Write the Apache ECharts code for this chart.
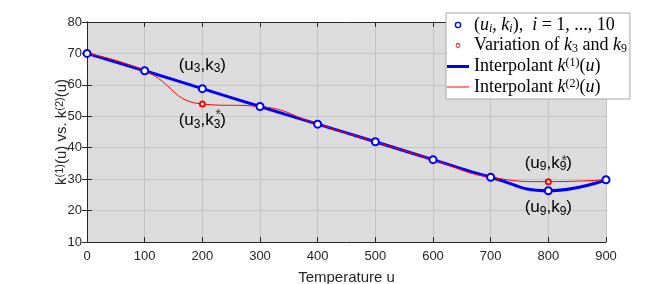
<!DOCTYPE html>
<html><head><meta charset="utf-8">
<script src="https://cdn.jsdelivr.net/npm/echarts@6/dist/echarts.min.js"></script>
<style>html,body{margin:0;padding:0;background:#fff}#c{width:670px;height:284px}</style>
</head><body><div id="c"></div>
<script>
// ---- data ----
const temps = [0, 100, 200, 300, 400, 500, 600, 700, 800, 900];
const kValues = [70, 64.5, 58.8, 53.1, 47.5, 41.9, 36.2, 30.6, 26.3, 29.8];
const variedIndex = [2, 8];
const variedValues = [53.9, 29.2];
const xTicks = [0, 100, 200, 300, 400, 500, 600, 700, 800, 900];
const yTicks = [10, 20, 30, 40, 50, 60, 70, 80];

const k2Values = kValues.slice();
variedIndex.forEach((ix, j) => { k2Values[ix] = variedValues[j]; });

const SANS = 'Liberation Sans, Arial, sans-serif';
const SERIF = 'Liberation Serif, DejaVu Serif, serif';

const annRich = {
  t: { fontSize: 17, fontFamily: SANS, color: '#000', lineHeight: 20 },
  s: { fontSize: 12, fontFamily: SANS, color: '#000', verticalAlign: 'bottom', lineHeight: 14, padding: [8, 0, 0, 0] }
};
function ann(k) { return '{t|(u}{s|' + k + '}{t|,k}{s|' + k + '}{t|)}'; }

const blueData = temps.map((u, i) => {
  const d = { value: [u, kValues[i]] };
  const pos = variedIndex.indexOf(i);
  if (pos === 0) d.label = { show: true, position: 'top', distance: 9, formatter: ann(i + 1), rich: annRich };
  if (pos === 1) d.label = { show: true, position: 'bottom', distance: 2, formatter: ann(i + 1), rich: annRich };
  return d;
});
const redData = variedIndex.map((ix, j) => {
  const d = { value: [temps[ix], variedValues[j]] };
  d.label = { show: true, position: j === 0 ? 'bottom' : 'top', distance: j === 0 ? 3 : 5, formatter: ann(ix + 1), rich: annRich };
  return d;
});
const starData = variedIndex.map((ix, j) => ({
  value: [temps[ix], variedValues[j]],
  label: { show: true, formatter: '*', fontSize: 14, fontFamily: SANS, color: '#000',
           position: j === 0 ? 'bottom' : 'top', distance: j === 0 ? 4 : 14, offset: [16, 0] }
}));

const legendRich = {
  m: { fontFamily: SERIF, fontSize: 18, fontStyle: 'italic', color: '#000', lineHeight: 19 },
  r: { fontFamily: SERIF, fontSize: 18, color: '#000', lineHeight: 19 },
  sb: { fontFamily: SERIF, fontSize: 12, color: '#000', verticalAlign: 'bottom', lineHeight: 13, padding: [6, 0, 0, 0] },
  sbi: { fontFamily: SERIF, fontSize: 12, fontStyle: 'italic', color: '#000', verticalAlign: 'bottom', lineHeight: 13, padding: [6, 0, 0, 0] },
  sp: { fontFamily: SERIF, fontSize: 12, color: '#000', verticalAlign: 'top', lineHeight: 13, padding: [0, 0, 6, 0] }
};
const legendText = {
  'pts': '{r|(}{m|u}{sbi|i}{r|, }{m|k}{sbi|i}{r|),  }{m|i}{r| = 1, ..., 10}',
  'var': '{r|Variation of }{m|k}{sb|3}{r| and }{m|k}{sb|9}',
  'int1': '{r|Interpolant }{m|k}{sp|(1)}{r|(}{m|u}{r|)}',
  'int2': '{r|Interpolant }{m|k}{sp|(2)}{r|(}{m|u}{r|)}'
};
// ring icons (outer/inner circle, with corner points fixing the icon box)
const ringBig = 'path://M0,0 Z M22,14 Z M14.3,7 A3.3,3.3 0 1,0 7.7,7 A3.3,3.3 0 1,0 14.3,7 Z M12.9,7 A1.9,1.9 0 1,1 9.1,7 A1.9,1.9 0 1,1 12.9,7 Z';
const ringSmall = 'path://M0,0 Z M22,14 Z M13.4,7 A2.4,2.4 0 1,0 8.6,7 A2.4,2.4 0 1,0 13.4,7 Z M12.6,7 A1.6,1.6 0 1,1 9.4,7 A1.6,1.6 0 1,1 12.6,7 Z';

const chart = echarts.init(document.getElementById('c'), null, { renderer: 'canvas' });
const axisColor = '#262626';
chart.setOption({
  animation: false,
  grid: { left: 87, right: 64, top: 22, bottom: 42, show: true, backgroundColor: '#dcdcdc', borderWidth: 0,
          containLabel: false, outerBoundsMode: 'none' },
  legend: {
    orient: 'vertical', left: 446, top: 13, padding: [3, 3, 3, 1], itemGap: 2,
    itemWidth: 22, itemHeight: 14, backgroundColor: '#fff', borderColor: '#a6a6a6', borderWidth: 1, borderRadius: 0,
    data: [
      { name: 'pts', icon: ringBig, itemStyle: { color: '#0000ff', borderWidth: 0 } },
      { name: 'var', icon: ringSmall, itemStyle: { color: '#ff0000', borderWidth: 0 } },
      { name: 'int1', icon: 'path://M0,0 H22 V3 H0 Z', itemStyle: { color: '#0000ff', borderWidth: 0 } },
      { name: 'int2', icon: 'path://M0,0 H22 V1 H0 Z', itemStyle: { color: '#ff0000', borderWidth: 0 } }
    ],
    formatter: n => legendText[n],
    textStyle: { rich: legendRich, padding: [0, 0, 0, 0] }
  },
  xAxis: [{
    type: 'value', min: 0, max: 900, interval: 100, position: 'bottom',
    name: 'Temperature u', nameLocation: 'middle', nameGap: 28, nameMoveOverlap: false,
    nameTextStyle: { fontFamily: SANS, fontSize: 15, color: axisColor },
    axisLine: { lineStyle: { color: axisColor } },
    axisTick: { inside: true, length: 5, lineStyle: { color: axisColor } },
    axisLabel: { fontFamily: SANS, fontSize: 13, color: axisColor, margin: 8 },
    splitLine: { show: true, lineStyle: { color: '#c4c4c4' } }
  }, {
    type: 'value', min: 0, max: 900, interval: 100, position: 'top',
    axisLine: { lineStyle: { color: axisColor } },
    axisTick: { inside: true, length: 5, lineStyle: { color: axisColor } },
    axisLabel: { show: false }, splitLine: { show: false }
  }],
  yAxis: [{
    type: 'value', min: 10, max: 80, interval: 10, position: 'left',
    name: '{a|k}{b|(1)}{a|(u) vs. k}{b|(2)}{a|(u)}', nameLocation: 'middle', nameGap: 17, nameRotate: 90,
    nameMoveOverlap: false,
    nameTextStyle: { rich: {
      a: { fontFamily: SANS, fontSize: 15, color: axisColor, lineHeight: 16 },
      b: { fontFamily: SANS, fontSize: 11, color: axisColor, verticalAlign: 'top', lineHeight: 12, padding: [0, 0, 6, 0] }
    } },
    axisLine: { show: true, lineStyle: { color: axisColor } },
    axisTick: { show: true, inside: true, length: 5, lineStyle: { color: axisColor } },
    axisLabel: { fontFamily: SANS, fontSize: 13, color: axisColor, margin: 5 },
    splitLine: { show: true, lineStyle: { color: '#c4c4c4' } }
  }, {
    type: 'value', min: 10, max: 80, interval: 10, position: 'right',
    axisLine: { show: true, lineStyle: { color: axisColor } },
    axisTick: { show: true, inside: true, length: 5, lineStyle: { color: axisColor } },
    axisLabel: { show: false }, splitLine: { show: false }
  }],
  series: [
    { name: 'int1', type: 'line', smooth: 0.5, symbol: 'none', data: temps.map((u, i) => [u, kValues[i]]),
      lineStyle: { color: '#0000ff', width: 3 }, itemStyle: { color: '#0000ff' }, z: 2 },
    { name: 'int2', type: 'line', smooth: 0.5, symbol: 'none', data: temps.map((u, i) => [u, k2Values[i]]),
      lineStyle: { color: '#ff0000', width: 1 }, itemStyle: { color: '#ff0000' }, z: 3 },
    { name: 'pts', type: 'scatter', symbol: 'emptyCircle', symbolSize: 7, data: blueData,
      itemStyle: { color: '#0000ff', borderColor: '#0000ff', borderWidth: 1.8, opacity: 1 }, z: 4 },
    { name: 'var', type: 'scatter', symbol: 'emptyCircle', symbolSize: 5, data: redData,
      itemStyle: { color: '#ff0000', borderColor: '#ff0000', borderWidth: 1, opacity: 1 }, z: 5 },
    { name: 'stars', type: 'scatter', symbol: 'circle', symbolSize: 0, data: starData, z: 6, silent: true,
      itemStyle: { color: 'rgba(0,0,0,0)' } }
  ]
});
</script></body></html>
